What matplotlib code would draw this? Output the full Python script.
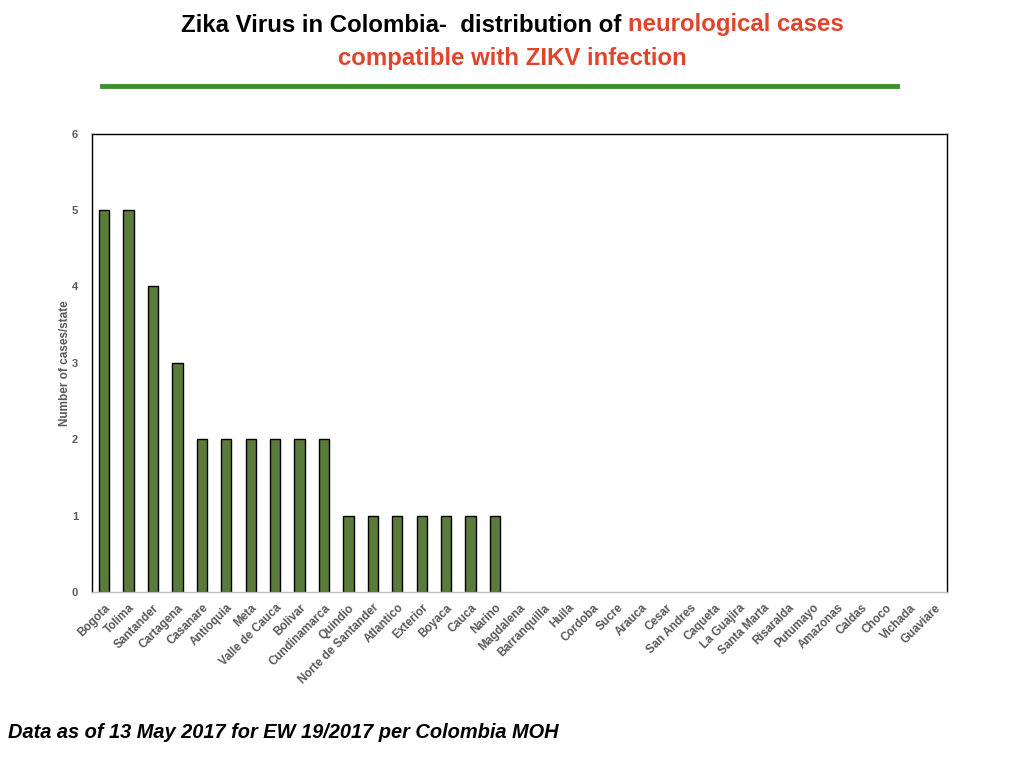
import matplotlib.pyplot as plt
from matplotlib.lines import Line2D

# Dados do gráfico
states = ["Bogota", "Tolima", "Santander", "Cartagena", "Casanare", "Antioquia",
          "Meta", "Valle de Cauca", "Bolivar", "Cundinamarca", "Quindio",
          "Norte de Santander", "Atlantico", "Exterior", "Boyaca", "Cauca",
          "Narino", "Magdalena", "Barranquilla", "Huila", "Cordoba", "Sucre",
          "Arauca", "Cesar", "San Andres", "Caqueta", "La Guajira",
          "Santa Marta", "Risaralda", "Putumayo", "Amazonas", "Caldas",
          "Choco", "Vichada", "Guaviare"]
cases = [5, 5, 4, 3, 2, 2, 2, 2, 2, 2, 1, 1, 1, 1, 1, 1, 1,
         0, 0, 0, 0, 0, 0, 0, 0, 0, 0, 0, 0, 0, 0, 0, 0, 0, 0]

title_black = "Zika Virus in Colombia\u2010  distribution of "
title_red_1 = "neurological cases"
title_red_2 = "compatible with ZIKV infection"
footer = "Data as of 13 May 2017 for EW 19/2017 per Colombia MOH"

plt.rcParams['font.family'] = ['Liberation Sans', 'DejaVu Sans']
grey = "#595959"
red = "#e0442c"

fig = plt.figure(figsize=(10.24, 7.68), dpi=100)
ax = fig.add_axes([0.0898, 0.229, 0.835, 0.597])

x = list(range(len(states)))
edges = ["black" if v > 0 else "none" for v in cases]
ax.bar(x, cases, width=0.42, color="#5b7b3b", edgecolor=edges, linewidth=1.0)

ax.set_xlim(-0.5, len(states) - 0.5)
ax.set_ylim(0, 6)
ax.set_yticks(range(7))
ax.set_yticklabels([str(v) for v in range(7)], fontsize=8, fontweight="bold", color=grey)
ax.set_xticks(x)
ax.set_xticklabels(states, rotation=45, ha="right", rotation_mode="anchor",
                   fontsize=8.4, fontweight="bold", color=grey)
ax.tick_params(axis="y", length=0, pad=10)
ax.tick_params(axis="x", length=0, pad=7)
ax.set_ylabel("Number of cases/state", fontsize=8.5, fontweight="bold", color=grey, labelpad=0.5)

for side in ["left", "top", "right"]:
    ax.spines[side].set_color("black")
    ax.spines[side].set_linewidth(1.0)
ax.spines["bottom"].set_color("#bfbfbf")
ax.spines["bottom"].set_linewidth(1.0)

# Título com duas cores
renderer = fig.canvas.get_renderer()
tfont = dict(fontsize=17.3, fontweight="bold")
t1 = fig.text(0, 0, title_black, color="black", **tfont)
t2 = fig.text(0, 0, title_red_1, color=red, **tfont)
w1 = t1.get_window_extent(renderer).width
w2 = t2.get_window_extent(renderer).width
x0 = (1024 - (w1 + w2)) / 2
y1 = 1 - 25 / 768
t1.set_position((x0 / 1024, y1))
t1.set_va("center")
t2.set_position(((x0 + w1) / 1024, y1))
t2.set_va("center")
fig.text(0.5, 1 - 58 / 768, title_red_2, color=red, ha="center", va="center", **tfont)

fig.add_artist(Line2D([102 / 1024, 897 / 1024], [1 - 86 / 768, 1 - 86 / 768],
                      color="#3d8f2e", linewidth=3.5))

fig.text(8 / 1024, 1 - 733 / 768, footer, fontsize=14.4, fontweight="bold",
         fontstyle="italic", ha="left", va="center", color="black")

fig.savefig("out.png", dpi=100)
